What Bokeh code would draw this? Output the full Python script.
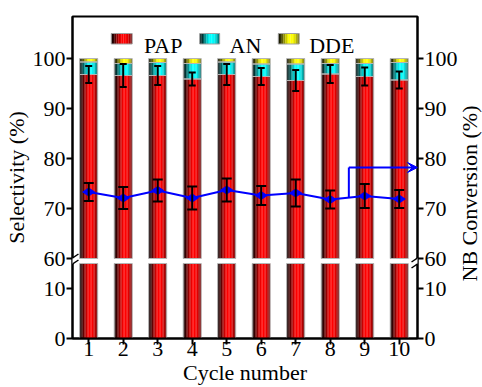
import math
from bokeh.plotting import figure
from bokeh.layouts import row
from bokeh.models import (Range1d, LinearAxis, FixedTicker, ColumnDataSource, Whisker,
                          TeeHead, Arrow, VeeHead, Label, PolyAnnotation)
from bokeh.core.properties import value
from bokeh.embed import file_html
from bokeh.resources import INLINE

# ---------------- data ----------------
cycles = [1, 2, 3, 4, 5, 6, 7, 8, 9, 10]
pap = [96.8, 96.6, 96.6, 95.9, 96.8, 96.4, 95.6, 96.9, 96.4, 95.7]
an = [2.5, 2.4, 2.6, 3.1, 2.5, 2.5, 3.3, 2.1, 2.6, 3.5]
dde = [0.7, 1.0, 0.8, 1.0, 0.7, 1.1, 1.1, 1.0, 1.0, 0.8]
pap_err = [1.7, 2.3, 1.9, 1.3, 2.1, 1.7, 2.1, 1.8, 1.8, 1.7]
nb_conv = [73.3, 72.1, 73.6, 72.1, 73.7, 72.6, 73.1, 71.8, 72.5, 71.9]
nb_err = [1.8, 2.2, 2.2, 2.3, 2.3, 1.9, 2.7, 1.8, 2.4, 1.8]
y_tick_values = [0, 10, 60, 70, 80, 90, 100]
series_names = ["PAP", "AN", "DDE"]

# ---------------- broken axis scale ----------------
LOW_MAX = 15.0     # bottom segment shows 0..15
HIGH_MIN = 60.0    # top segment starts at 60
GAP = 1.0
SHIFT = HIGH_MIN - LOW_MAX - GAP   # 44


def yb(v):
    return v if v <= LOW_MAX else v - SHIFT


SIDE_W = 20                       # narrow strip holding the right-hand title
W_FIG, H_FIG = 482 - SIDE_W, 387
ML, MT, MB = 70, 16, 49
MR = W_FIG - 417
X0, X1 = 0.53, 10.53
Y0, Y1 = 0.0, 64.4
FW = W_FIG - ML - MR
FH = H_FIG - MT - MB


def sx(px):   # page pixel -> data x
    return X0 + (px - ML) * (X1 - X0) / FW


def sy(py):   # page pixel -> plot y
    return Y0 + (MT + FH - py) * (Y1 - Y0) / FH


FONT = "Liberation Serif"
RED = (255, 0, 0)
CYAN = (0, 255, 255)
YELLOW = (255, 255, 0)
BLUE = "#0000ff"
prof = [0.10, 0.20, 0.38, 0.58, 0.78, 0.92, 1.0, 1.0, 0.97, 0.88, 0.70, 0.50]


def shade(rgb, b):
    return "#%02x%02x%02x" % tuple(int(round(c * b)) for c in rgb)


p = figure(width=W_FIG, height=H_FIG, output_backend="svg", toolbar_location=None,
           x_range=Range1d(X0, X1), y_range=Range1d(Y0, Y1),
           min_border_left=ML, min_border_right=MR, min_border_top=MT, min_border_bottom=MB)
p.background_fill_color = "white"
p.border_fill_color = "white"
p.outline_line_color = "black"
p.outline_line_width = 2
p.xgrid.visible = False
p.ygrid.visible = False

# ---------------- stacked gradient bars ----------------
N = len(prof)
BW = 0.52
pap_top = [yb(v) for v in pap]
an_top = [yb(a + b) for a, b in zip(pap, an)]
dde_top = [yb(a + b + c) for a, b, c in zip(pap, an, dde)]
segs = [([0.0] * len(cycles), [LOW_MAX] * len(cycles), RED),
        ([LOW_MAX + GAP] * len(cycles), pap_top, RED),
        (pap_top, an_top, CYAN),
        (an_top, dde_top, YELLOW)]
d = dict(x=[], b=[], t=[], c=[])
for bot, top, rgb in segs:
    for i, br in enumerate(prof):
        off = -BW / 2 + BW / N * (i + 0.5)
        for cx, lo, hi in zip(cycles, bot, top):
            d["x"].append(cx + off)
            d["b"].append(lo)
            d["t"].append(hi)
            d["c"].append(shade(rgb, br))
p.vbar(x="x", width=BW / N * 1.05, bottom="b", top="t", fill_color="c",
       line_color=None, source=ColumnDataSource(d))
for bot, top, rgb in segs:
    p.vbar(x=cycles, width=BW, bottom=bot, top=top, fill_color=None,
           line_color="#b4b4b4", line_width=1)

# PAP error bars
src_pap = ColumnDataSource(dict(x=cycles, up=[yb(v + e) for v, e in zip(pap, pap_err)],
                                lo=[yb(v - e) for v, e in zip(pap, pap_err)]))
p.add_layout(Whisker(source=src_pap, base="x", upper="up", lower="lo", line_width=2,
                     line_color="black", level="overlay",
                     upper_head=TeeHead(size=7, line_width=2, line_color="black"),
                     lower_head=TeeHead(size=7, line_width=2, line_color="black")))

# ---------------- NB conversion line ----------------
nb_plot = [yb(v) for v in nb_conv]
p.line(cycles, nb_plot, line_color=BLUE, line_width=2)
p.scatter(cycles, nb_plot, marker="diamond", angle=math.pi / 2, size=12,
          fill_color=BLUE, line_color=BLUE)
src_nb = ColumnDataSource(dict(x=cycles, up=[yb(v + e) for v, e in zip(nb_conv, nb_err)],
                               lo=[yb(v - e) for v, e in zip(nb_conv, nb_err)]))
p.add_layout(Whisker(source=src_nb, base="x", upper="up", lower="lo", line_width=2,
                     line_color="black", level="overlay",
                     upper_head=TeeHead(size=10, line_width=2, line_color="black"),
                     lower_head=TeeHead(size=10, line_width=2, line_color="black")))

# arrow pointing to the right axis
ax_x = 8.54
p.line([ax_x, ax_x], [yb(72.2), yb(78.2)], line_color=BLUE, line_width=2)
p.add_layout(Arrow(x_start=ax_x, y_start=yb(78.2), x_end=X1, y_end=yb(78.2),
                   line_color=BLUE, line_width=2,
                   end=VeeHead(size=10, fill_color=BLUE, line_color=BLUE, line_width=1)))

# ---------------- axes ----------------
ticks_plot = [yb(v) for v in y_tick_values]
overrides = {t: str(v) for t, v in zip(ticks_plot, y_tick_values)}


def style_axis(ax):
    ax.axis_line_width = 2
    ax.major_tick_line_width = 2
    ax.major_tick_out = 6
    ax.major_tick_in = 0
    ax.minor_tick_out = 0
    ax.minor_tick_in = 0
    ax.major_label_text_font = FONT
    ax.major_label_text_font_size = "22px"
    ax.major_label_text_color = "black"
    ax.major_label_standoff = 1
    ax.axis_label_text_font = FONT
    ax.axis_label_text_font_size = "22px"
    ax.axis_label_text_font_style = "normal"
    ax.axis_label_text_color = "black"
    ax.axis_label_standoff = 0


p.yaxis.ticker = FixedTicker(ticks=ticks_plot)
p.yaxis.major_label_overrides = overrides
style_axis(p.yaxis[0])
p.yaxis.axis_label = "Selectivity (%)"
p.yaxis.axis_label_standoff = 1

ry = LinearAxis(ticker=FixedTicker(ticks=ticks_plot), major_label_overrides=overrides)
style_axis(ry)
p.add_layout(ry, "right")

p.xaxis.ticker = FixedTicker(ticks=cycles)
style_axis(p.xaxis[0])
p.xaxis.axis_label = "Cycle number"
p.xaxis.major_label_standoff = -3
p.xaxis.axis_label_standoff = 1

# axis break marks
for xa in (ML, ML + FW):
    p.add_layout(PolyAnnotation(xs=[sx(xa - 6), sx(xa + 6), sx(xa + 6), sx(xa - 6)],
                                ys=[sy(261.5), sy(253.5), sy(259.5), sy(267.5)],
                                fill_color="white", fill_alpha=1, line_color=None))
    for dy in (0, 6):
        p.add_layout(Arrow(x_start=sx(xa - 6), y_start=sy(261.5 + dy), x_end=sx(xa + 6),
                           y_end=sy(253.5 + dy), end=None, line_color="black",
                           line_width=1.5))

# ---------------- legend (manual, gradient swatches) ----------------
legend_items = [(109, 130, RED, 142), (198, 218, CYAN, 228), (277, 298, YELLOW, 308)]
ld = dict(x=[], b=[], t=[], c=[])
for (l, r, rgb, tx), name in zip(legend_items, series_names):
    x0, x1 = sx(l), sx(r)
    w = (x1 - x0) / N
    for i, br in enumerate(prof):
        ld["x"].append(x0 + w * (i + 0.5))
        ld["b"].append(sy(43.5))
        ld["t"].append(sy(33))
        ld["c"].append(shade(rgb, br))
    p.add_layout(Label(x=sx(tx), y=sy(44.5), text=name, text_align="left",
                       text_baseline="alphabetic", text_font=FONT, text_font_size="22px",
                       text_color="black"))
p.vbar(x="x", width=(sx(130) - sx(109)) / N * 1.05, bottom="b", top="t", fill_color="c",
       line_color=None, source=ColumnDataSource(ld))
for l, r, rgb, tx in legend_items:
    p.quad(left=sx(l), right=sx(r), bottom=sy(43.5), top=sy(33), fill_color=None,
           line_color="#a0a0a0", line_width=1)

# ---------------- right-hand title strip (reads bottom to top) ----------------
# the strip's frame lines up with the main frame (page y 16..338), so its y range
# is expressed in page pixels directly
side = figure(width=SIDE_W, height=H_FIG, output_backend="svg", toolbar_location=None,
              x_range=Range1d(0, SIDE_W), y_range=Range1d(MT + FH, MT),
              min_border_left=0, min_border_right=0, min_border_top=0, min_border_bottom=0)
side.axis.visible = False
side.grid.visible = False
side.outline_line_color = None
side.background_fill_color = "white"
side.border_fill_color = "white"
side.text(x=[7], y=[193], text=["NB Conversion (%)"], angle=math.pi / 2,
          text_align="center", text_baseline="alphabetic", text_font=value(FONT),
          text_font_size="22px", text_color="black")

layout = row(p, side, spacing=0)
open("out.html", "w").write(file_html(layout, INLINE))
